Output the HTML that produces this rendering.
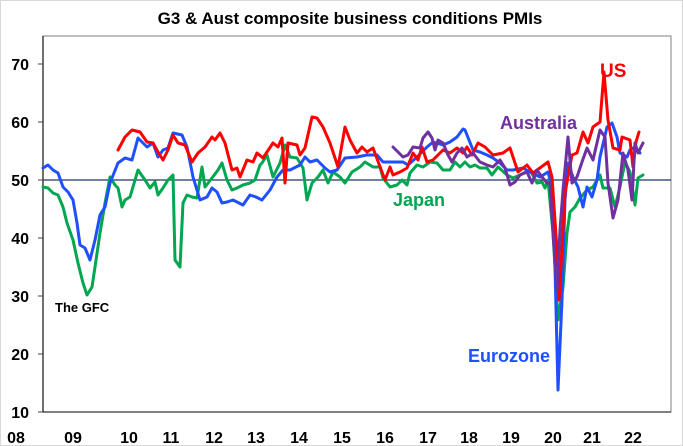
<!DOCTYPE html>
<html><head><meta charset="utf-8"><style>
html,body{margin:0;padding:0;background:#fff}
svg{display:block}
text{font-family:"Liberation Sans",Arial,sans-serif;font-weight:bold}
</style></head><body>
<svg width="683" height="446" viewBox="0 0 683 446" xmlns="http://www.w3.org/2000/svg">
<rect x="0.5" y="0.5" width="682" height="445" fill="#fff" stroke="#d9d9d9"/>
<text x="350" y="24" font-size="17" text-anchor="middle" fill="#000">G3 &amp; Aust composite business conditions PMIs</text>
<rect x="43" y="36" width="628" height="376" fill="none" stroke="#7f7f7f" stroke-width="1"/>
<line x1="43" y1="36" x2="43" y2="412" stroke="#404040" stroke-width="1.5"/>
<line x1="43" y1="412" x2="671" y2="412" stroke="#000" stroke-width="1"/>
<g stroke="#404040" stroke-width="1">
<line x1="38" y1="64" x2="43" y2="64"/><line x1="38" y1="122" x2="43" y2="122"/><line x1="38" y1="180" x2="43" y2="180"/><line x1="38" y1="238" x2="43" y2="238"/><line x1="38" y1="296" x2="43" y2="296"/><line x1="38" y1="354" x2="43" y2="354"/><line x1="38" y1="412" x2="43" y2="412"/>
</g>
<g font-size="16" text-anchor="end" fill="#000">
<text x="29" y="70">70</text><text x="29" y="128">60</text><text x="29" y="186">50</text><text x="29" y="244">40</text><text x="29" y="302">30</text><text x="29" y="360">20</text><text x="29" y="418">10</text>
</g>
<g font-size="16" text-anchor="middle" fill="#000">
<text x="16" y="443">08</text><text x="73" y="443">09</text><text x="129" y="443">10</text><text x="171" y="443">11</text><text x="214" y="443">12</text><text x="256" y="443">13</text><text x="299" y="443">14</text><text x="342" y="443">15</text><text x="385" y="443">16</text><text x="428" y="443">17</text><text x="469" y="443">18</text><text x="511" y="443">19</text><text x="553" y="443">20</text><text x="592" y="443">21</text><text x="633" y="443">22</text>
</g>
<line x1="43" y1="180" x2="671" y2="180" stroke="#1f3864" stroke-width="1.2"/>
<g fill="none" stroke-width="3" stroke-linejoin="round" stroke-linecap="round">
<polyline stroke="#00a650" points="43,187 48,188 53,193 58,195 63,207 67,223 73,240 78,263 83,283 87,295 92,287 95,267 100,233 105,203 110,177 115,185 118,188 122,207 125,200 130,197 135,180 138,170 145,180 150,188 155,182 158,195 163,188 168,180 173,175 175,260 180,267 183,203 187,195 192,197 197,198 202,167 205,187 212,178 218,170 222,163 227,180 232,190 237,188 243,185 250,183 255,180 260,165 262,163 267,155 273,177 280,163 285,145 290,157 297,158 303,168 307,200 312,183 318,177 323,170 328,183 333,172 340,177 345,183 352,172 360,167 365,162 373,167 380,167 383,178 390,187 397,185 402,180 407,185 410,173 417,165 423,167 430,162 437,163 443,170 450,170 455,162 460,167 465,162 470,167 475,165 480,168 487,168 492,175 498,167 507,175 513,178 520,175 530,170 537,183 542,182 545,188 548,180 553,233 558,320 563,287 567,233 570,212 575,207 580,198 587,190 593,187 600,175 603,188 610,188 615,207 620,187 625,162 630,172 635,205 638,178 643,175"/>
<polyline stroke="#1f4fff" points="43,168 48,165 53,170 58,173 63,187 68,192 73,200 77,223 80,245 85,248 90,260 95,240 100,215 105,207 110,183 118,163 125,158 132,160 138,138 147,147 153,143 158,157 163,150 168,148 173,133 182,135 187,147 193,177 200,200 207,197 212,188 217,192 222,203 227,202 233,200 243,205 250,195 256,197 262,200 270,190 277,177 283,170 290,170 300,165 305,157 310,162 317,160 325,168 330,172 337,170 345,158 357,157 367,155 377,155 383,162 403,162 408,165 417,157 427,147 433,142 443,145 450,142 457,137 463,129 465,130 473,150 480,152 487,155 493,158 500,163 507,170 513,170 523,168 530,172 540,177 548,172 552,187 555,267 558,390 562,300 565,200 568,163 573,177 578,187 583,207 587,187 592,197 597,180 600,157 607,127 612,123 617,137 620,153 627,157 630,150 635,147 640,153"/>
<polyline stroke="#ff0000" points="118,150 125,137 132,130 140,132 147,142 153,143 158,152 163,160 168,150 173,135 178,143 185,145 192,162 198,153 205,147 212,137 215,140 220,133 225,143 232,170 237,168 240,177 247,160 253,162 257,153 263,158 273,143 278,147 282,138 285,183 288,143 297,145 300,155 305,148 312,117 317,118 323,127 330,143 338,167 345,127 350,140 357,153 362,147 367,152 373,148 382,172 385,180 390,167 393,175 400,172 407,168 413,153 418,160 422,147 427,162 433,160 443,150 450,153 457,148 463,153 467,147 472,155 478,143 485,147 493,155 503,153 510,148 518,172 527,165 533,173 548,162 552,177 557,250 559,300 565,193 572,155 577,153 583,132 588,143 593,127 600,122 604,72 608,120 613,148 620,150 622,137 630,140 633,167 636,142 639,132"/>
<polyline stroke="#7030a0" points="393,147 398,152 403,157 408,155 413,147 420,148 423,138 428,132 432,138 435,150 438,140 443,143 448,155 452,162 457,153 462,148 467,157 473,153 480,162 487,165 493,167 500,160 505,168 510,185 515,182 520,175 527,172 532,183 537,170 542,177 547,183 550,183 553,233 557,290 560,230 563,190 568,137 572,183 577,177 582,162 587,148 593,160 600,130 605,137 608,183 613,218 618,200 623,153 628,170 632,200 635,143 638,153 643,143"/>
</g>
<text x="600" y="77" font-size="19" fill="#ff0000">US</text>
<text x="500" y="129" font-size="18" fill="#7030a0">Australia</text>
<text x="393" y="206" font-size="18" fill="#00a650">Japan</text>
<text x="468" y="362" font-size="18" fill="#1f4fff">Eurozone</text>
<text x="55" y="312" font-size="13" fill="#000">The GFC</text>
</svg>
</body></html>
